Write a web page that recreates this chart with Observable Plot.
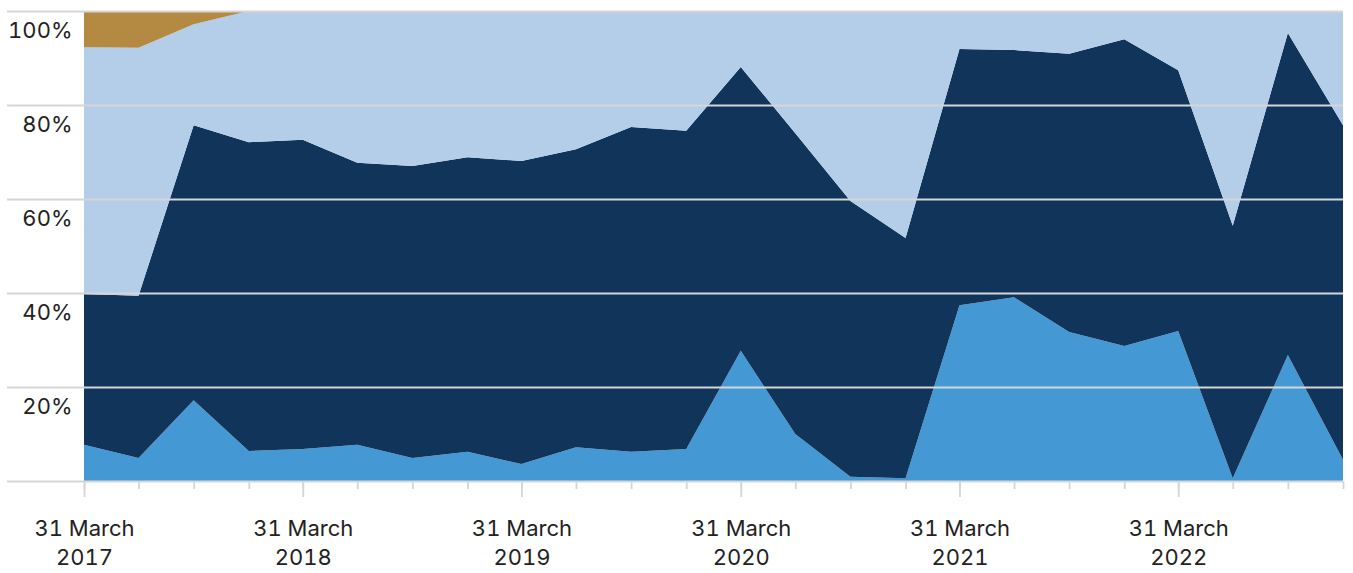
<!DOCTYPE html>
<html><head><meta charset="utf-8">
<script src="https://cdn.jsdelivr.net/npm/d3@7"></script>
<script src="https://cdn.jsdelivr.net/npm/@observablehq/plot@0.6"></script>
<style>body{margin:0;background:#fff;overflow:hidden;}</style>
</head><body><div id="chart"></div>
<script>
const quarters = [
  "2017-03-31","2017-06-30","2017-09-30","2017-12-31",
  "2018-03-31","2018-06-30","2018-09-30","2018-12-31",
  "2019-03-31","2019-06-30","2019-09-30","2019-12-31",
  "2020-03-31","2020-06-30","2020-09-30","2020-12-31",
  "2021-03-31","2021-06-30","2021-09-30","2021-12-31",
  "2022-03-31","2022-06-30","2022-09-30","2022-12-31"
];
const seriesNames = ["Category A","Category B","Category C","Category D"];
// bottom layer (medium blue), %
const catA = [7.7,4.9,17.2,6.4,6.8,7.7,4.9,6.2,3.6,7.2,6.2,6.8,27.7,10.0,0.9,0.6,37.4,39.1,31.7,28.7,31.9,0.6,26.8,4.5];
// second layer (navy), %
const catB = [32.1,34.5,58.5,65.7,65.8,60.0,62.1,62.7,64.5,63.4,69.1,67.7,60.4,64.0,58.7,51.1,54.5,52.6,59.2,65.3,55.5,53.7,68.5,71.2];
// third layer (light blue), %
const catC = [52.5,52.8,21.5,27.9,27.4,32.3,33.0,31.1,31.9,29.4,24.7,25.5,11.9,26.0,40.4,48.3,8.1,8.3,9.1,6.0,12.6,45.7,4.7,24.3];
// top layer (gold), %
const catD = [7.7,7.8,2.8,0,0,0,0,0,0,0,0,0,0,0,0,0,0,0,0,0,0,0,0,0];
const colors = ["#4499d4","#11355a","#b4cde8","#b48a42"];
const yTicks = [0,20,40,60,80,100];
const yLabelTicks = [20,40,60,80,100];
const xLabelDates = ["2017-03-31","2018-03-31","2019-03-31","2020-03-31","2021-03-31","2022-03-31"];

const parse = d3.utcParse("%Y-%m-%d");
const cols = [catA, catB, catC, catD];
const data = [];
seriesNames.forEach((s, k) => quarters.forEach((q, i) => data.push({date: parse(q), series: s, value: cols[k][i]})));
const quarterDates = quarters.map(parse);
const majorDates = xLabelDates.map(parse);
const fmt = d3.utcFormat("%d %B\n%Y");

const chart = Plot.plot({
  width: 1353, height: 573,
  marginLeft: 84, marginRight: 10, marginTop: 11, marginBottom: 92,
  style: {fontFamily: "Inter, 'Noto Sans', sans-serif", fontSize: "22px", color: "#222", background: "#fff"},
  x: {type: "utc", domain: [quarterDates[0], quarterDates[quarterDates.length - 1]], label: null},
  y: {domain: [0, 100], label: null},
  color: {domain: seriesNames, range: colors},
  marks: [
    Plot.areaY(data, {x: "date", y: "value", fill: "series", order: seriesNames}),
    Plot.gridY({ticks: yTicks, stroke: "#d6d6d6", strokeOpacity: 1, strokeWidth: 1.8}),
    Plot.axisY({ticks: yTicks, tickSize: 77, tickFormat: () => "", stroke: "#d6d6d6", strokeWidth: 1.8, label: null}),
    Plot.axisY({ticks: yLabelTicks, tickSize: 0, tickPadding: 12, dy: 19, tickFormat: d => d + "%", fill: "#222", fontSize: 22, label: null}),
    Plot.axisX({ticks: quarterDates, tickSize: 8, tickFormat: () => "", stroke: "#d6d6d6", strokeWidth: 1.8, label: null}),
    Plot.axisX({ticks: majorDates, tickSize: 16, tickPadding: 17, tickFormat: d => fmt(d), stroke: "#d6d6d6", strokeWidth: 1.8, fill: "#222", fontSize: 22, lineHeight: 1.35, label: null})
  ]
});
document.getElementById("chart").appendChild(chart);
</script>
</body></html>
